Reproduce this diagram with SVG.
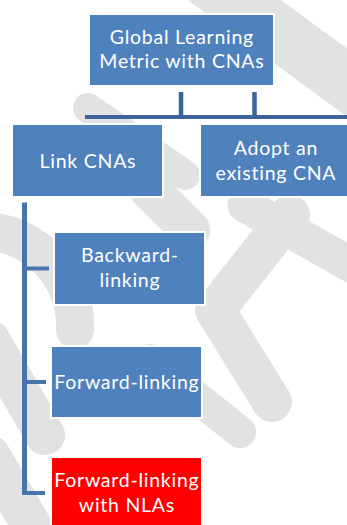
<svg xmlns="http://www.w3.org/2000/svg" width="347" height="525" viewBox="0 0 347 525">
<style>
.wm{fill:none;stroke:#e2e2e2;stroke-linecap:round}
.box{fill:#4f81bd;stroke:#ffffff;stroke-width:2}
.red{fill:#ff0000;stroke:#ffffff;stroke-width:2}
.t{font-family:Lato,"Open Sans","Liberation Sans",sans-serif;font-size:19.5px;letter-spacing:0.75px;fill:#ffffff;text-anchor:middle}
.c1{stroke:#3b6598;fill:none}
.c2{stroke:#4874ae;fill:none}
</style>
<rect width="347" height="525" fill="#ffffff"/>
<g id="watermark">
  <path class="wm" d="M207,-20 L360,92" stroke-width="55"/>
  <path class="wm" d="M88,108 L185,175" stroke-width="30"/>
  <path class="wm" d="M150,190 L190,230" stroke-width="40"/>
  <path class="wm" d="M245,205 L360,270" stroke-width="35"/>
  <path class="wm" d="M290,215 L215,310 L272,402" stroke-width="40" stroke-linejoin="round"/>
  <path class="wm" d="M150,360 L240,432" stroke-width="32"/>
  <path class="wm" d="M-5,232 A95,95 0 0 1 75,330" stroke-width="38" stroke-linecap="butt"/>
  <path class="wm" d="M-10,340 L45,435" stroke-width="40" stroke-linecap="butt"/>
  <path class="wm" d="M-10,455 L40,540" stroke-width="40" stroke-linecap="butt"/>
</g>
<g id="connectors">
  <path class="c1" d="M181,92 V117 M254.5,92 V117" stroke-width="4.5"/>
  <path class="c1" d="M85,117 H347" stroke-width="4"/>
  <path class="c2" d="M24.5,202.5 V495" stroke-width="5"/>
  <path class="c2" d="M24.5,268.5 H49 M24.5,382 H46 M24.5,493 H45" stroke-width="4"/>
</g>
<g id="n-global">
  <rect class="box" x="89" y="14" width="185" height="72"/>
  <text class="t" x="181.9" y="44.3">Global Learning</text>
  <text class="t" x="181.9" y="68.3">Metric with CNAs</text>
</g>
<g id="n-link">
  <rect class="box" x="12" y="124" width="151" height="73"/>
  <text class="t" x="87.9" y="167.5">Link CNAs</text>
</g>
<g id="n-adopt">
  <rect class="box" x="200" y="124" width="151" height="73"/>
  <text class="t" x="275.9" y="155">Adopt an</text>
  <text class="t" x="275.9" y="180">existing CNA</text>
</g>
<g id="n-backward">
  <rect class="box" x="54" y="232" width="151" height="73"/>
  <text class="t" x="129.9" y="261.7">Backward-</text>
  <text class="t" x="129.9" y="287.3">linking</text>
</g>
<g id="n-forward">
  <rect class="box" x="51" y="346" width="151" height="72"/>
  <text class="t" x="126.9" y="389.3">Forward-linking</text>
</g>
<g id="n-forward-nla">
  <rect class="red" x="51" y="457" width="151" height="73"/>
  <text class="t" x="126.9" y="487.3">Forward-linking</text>
  <text class="t" x="126.9" y="511.7">with NLAs</text>
</g>
</svg>
